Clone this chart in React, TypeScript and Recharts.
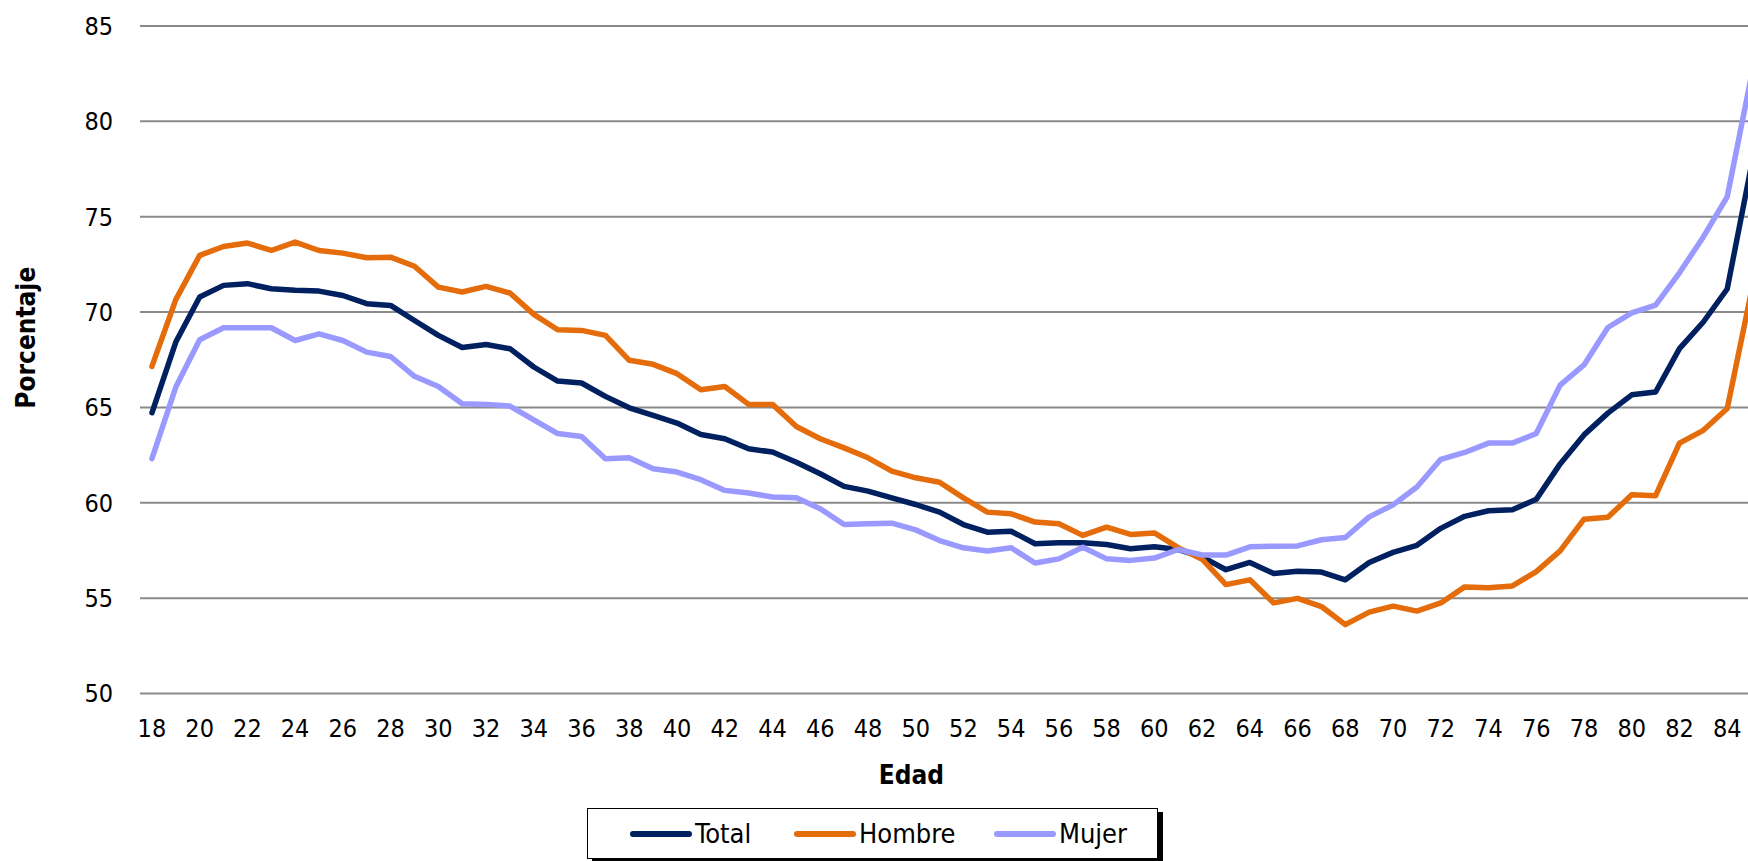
import React from 'react'
import { LineChart, Line, XAxis, YAxis, CartesianGrid, Legend } from 'recharts'

const ages = [
  18, 19, 20, 21, 22, 23, 24, 25, 26, 27, 28, 29, 30, 31, 32, 33, 34,
  35, 36, 37, 38, 39, 40, 41, 42, 43, 44, 45, 46, 47, 48, 49, 50, 51,
  52, 53, 54, 55, 56, 57, 58, 59, 60, 61, 62, 63, 64, 65, 66, 67, 68,
  69, 70, 71, 72, 73, 74, 75, 76, 77, 78, 79, 80, 81, 82, 83, 84, 85,
]

const total = [
  64.72, 68.43, 70.79, 71.4, 71.49, 71.22, 71.14, 71.1, 70.87, 70.44, 70.35, 69.56, 68.78, 68.14, 68.3, 68.08, 67.12,
  66.38, 66.28, 65.58, 64.98, 64.58, 64.18, 63.58, 63.36, 62.83, 62.66, 62.13, 61.52, 60.86, 60.61, 60.26, 59.91, 59.51,
  58.86, 58.46, 58.51, 57.85, 57.9, 57.9, 57.81, 57.59, 57.7, 57.55, 57.16, 56.49, 56.87, 56.29, 56.41, 56.37, 55.96,
  56.87, 57.4, 57.77, 58.66, 59.29, 59.58, 59.63, 60.18, 62.04, 63.56, 64.7, 65.66, 65.81, 68.08, 69.48, 71.21, 77.6,
]

const hombre = [
  67.15, 70.65, 72.97, 73.44, 73.62, 73.23, 73.67, 73.23, 73.09, 72.85, 72.88, 72.4, 71.31, 71.05, 71.35, 71.0, 69.88,
  69.07, 69.04, 68.78, 67.47, 67.26, 66.77, 65.93, 66.1, 65.16, 65.16, 64.0, 63.36, 62.88, 62.36, 61.66, 61.31, 61.08,
  60.26, 59.51, 59.42, 58.99, 58.9, 58.29, 58.72, 58.34, 58.42, 57.65, 57.04, 55.71, 55.96, 54.75, 54.99, 54.56, 53.61,
  54.27, 54.58, 54.32, 54.75, 55.59, 55.55, 55.64, 56.39, 57.48, 59.14, 59.24, 60.42, 60.37, 63.13, 63.8, 64.94, 71.0,
]

const mujer = [
  62.31, 66.07, 68.55, 69.18, 69.18, 69.18, 68.51, 68.86, 68.51, 67.9, 67.67, 66.63, 66.1, 65.19, 65.16, 65.07, 64.35,
  63.63, 63.48, 62.31, 62.36, 61.78, 61.61, 61.21, 60.65, 60.51, 60.3, 60.26, 59.69, 58.86, 58.9, 58.93, 58.58, 58.02,
  57.64, 57.47, 57.64, 56.84, 57.06, 57.67, 57.06, 56.98, 57.1, 57.55, 57.26, 57.26, 57.69, 57.72, 57.74, 58.06, 58.18,
  59.26, 59.89, 60.83, 62.28, 62.64, 63.13, 63.13, 63.63, 66.17, 67.23, 69.19, 69.96, 70.37, 72.06, 73.94, 76.04, 82.3,
]

const xTicks = [18, 20, 22, 24, 26, 28, 30, 32, 34, 36, 38, 40, 42, 44, 46, 48, 50, 52, 54, 56, 58, 60, 62, 64, 66, 68, 70, 72, 74, 76, 78, 80, 82, 84]
const yTicks = [50, 55, 60, 65, 70, 75, 80, 85]

const seriesNames = ['Total', 'Hombre', 'Mujer']
const seriesColors = ['#002060', '#E46C0A', '#9999FF']

const data = ages.map((age, i) => ({ age, Total: total[i], Hombre: hombre[i], Mujer: mujer[i] }))

const FONT = "'DejaVu Sans Condensed', 'Liberation Sans', Arial, sans-serif"
// legend text boxes, so the items sit where the original put them
const legendTextW = [58, 94, 69]

const XTitle = (props: any) => {
  const vb = props.viewBox
  const x = vb.x + vb.width / 2 - 40
  const y = vb.y + 90
  return (
    <text x={x} y={y} textAnchor="middle" fontFamily={FONT} fontSize={26} fontWeight="bold" fill="#000">
      Edad
    </text>
  )
}

const YTitle = (props: any) => {
  const vb = props.viewBox
  const x = vb.x + 26
  const y = vb.y + vb.height / 2 - 22
  return (
    <text x={x} y={y} transform={`rotate(-90 ${x} ${y})`} textAnchor="middle" dominantBaseline="central"
      fontFamily={FONT} fontSize={26} fontWeight="bold" fill="#000">
      Porcentaje
    </text>
  )
}

const renderLegend = () => (
  <div style={{
    boxSizing: 'border-box', width: '100%', height: '100%', border: '1px solid #000', background: '#fff',
    boxShadow: '5px 4px 0 #000', display: 'flex', alignItems: 'center', justifyContent: 'flex-start',
    paddingLeft: 42, gap: 41, fontFamily: FONT, fontSize: 27, color: '#000',
  }}>
    {seriesNames.map((name, i) => (
      <div key={name} style={{ display: 'flex', alignItems: 'center' }}>
        <span style={{ display: 'inline-block', width: 62, height: 6, borderRadius: 3, background: seriesColors[i], marginRight: 3 }} />
        <span style={{ display: 'inline-block', width: legendTextW[i], whiteSpace: 'nowrap' }}>{name}</span>
      </div>
    ))}
  </div>
)

export default function App() {
  return (
    <div style={{ position: 'absolute', left: 0, top: 0, width: 1748, height: 861, overflow: 'hidden', background: '#fff' }}>
      <LineChart width={1763} height={861} data={data} margin={{ top: 26, right: 0, bottom: 107.5, left: 0 }}>
        <CartesianGrid vertical={false} stroke="#8a8a8a" strokeWidth={2} />
        <XAxis
          dataKey="age" type="number" domain={[17.5, 85.5]} ticks={xTicks} interval={0}
          axisLine={false} tickLine={false} tickSize={0} tickMargin={26} height={60}
          tick={{ fontFamily: FONT, fontSize: 25, fill: '#000' }}
          label={{ content: <XTitle /> }}
        />
        <YAxis
          type="number" domain={[50, 85]} ticks={yTicks} interval={0} width={140}
          axisLine={false} tickLine={false} tickSize={0} tickMargin={27}
          tick={{ fontFamily: FONT, fontSize: 25, fill: '#000' }}
          label={{ content: <YTitle /> }}
        />
        <Legend
          layout="vertical" align="center" verticalAlign="middle" content={renderLegend}
          wrapperStyle={{ left: 587, top: 808, width: 571, height: 51, bottom: 'auto', right: 'auto' }}
        />
        {seriesNames.map((name, i) => (
          <Line key={name} type="linear" dataKey={name} stroke={seriesColors[i]} strokeWidth={5.5}
            strokeLinejoin="round" strokeLinecap="round" dot={false} activeDot={false} isAnimationActive={false} />
        ))}
      </LineChart>
    </div>
  )
}
